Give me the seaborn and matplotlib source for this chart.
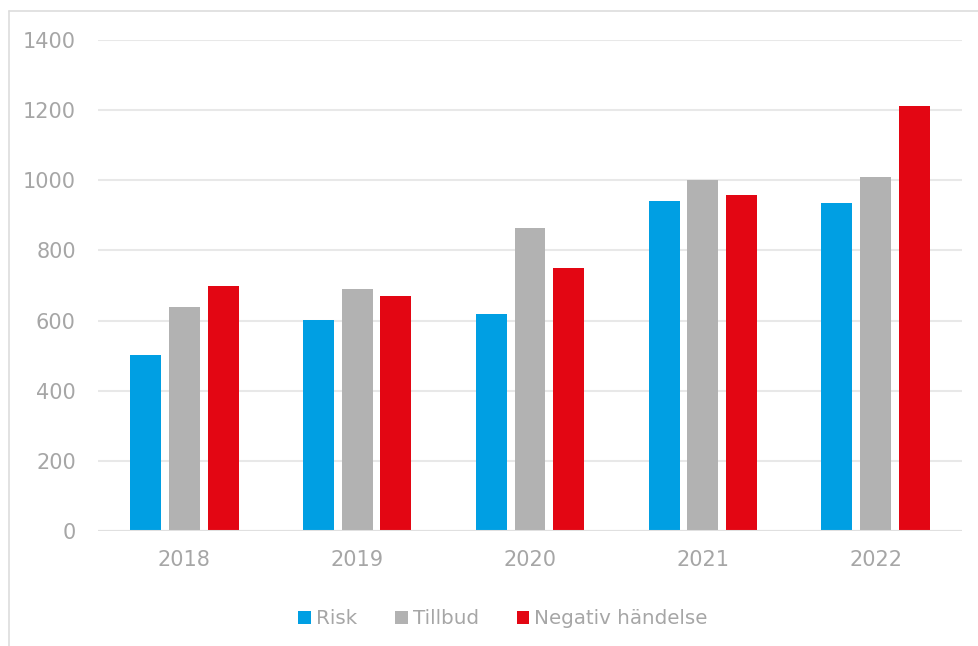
import matplotlib
matplotlib.use("Agg")
import matplotlib.pyplot as plt
import seaborn as sns
import pandas as pd
from matplotlib.patches import Patch
from matplotlib.lines import Line2D

years = ["2018", "2019", "2020", "2021", "2022"]
series = ["Risk", "Tillbud", "Negativ händelse"]
risk = [502, 602, 619, 941, 935]
tillbud = [639, 690, 864, 1000, 1008]
negativ = [699, 670, 750, 958, 1211]
yticks = [0, 200, 400, 600, 800, 1000, 1200, 1400]
colors = ["#009FE3", "#B2B2B2", "#E30613"]

df = pd.DataFrame({
    "year": years * 3,
    "series": [series[0]] * 5 + [series[1]] * 5 + [series[2]] * 5,
    "value": risk + tillbud + negativ,
})

sns.set_theme(style="white")
plt.rcParams["font.family"] = ["DejaVu Sans"]
txt = "#A6A6A6"

fig = plt.figure(figsize=(9.79, 6.46), dpi=100)
ax = fig.add_axes([98 / 979, 1 - 531 / 646, 864 / 979, 491 / 646])

sns.barplot(data=df, x="year", y="value", hue="series", order=years,
            hue_order=series, palette=colors, width=0.672, gap=0.2,
            saturation=1, ax=ax, legend=False, zorder=3, linewidth=0,
            edgecolor="none")

ax.set_xlim(-0.5, 4.5)
ax.set_ylim(0, 1400)
ax.set_yticks(yticks)
ax.set_yticklabels([str(v) for v in yticks])
ax.yaxis.grid(True, color="#E8E8E8", linewidth=1.5, zorder=0)
ax.set_axisbelow(True)
for s in ["top", "right", "left", "bottom"]:
    ax.spines[s].set_visible(False)
ax.axhline(0, color="#E0E0E0", linewidth=1.5, zorder=4)
ax.tick_params(axis="both", length=0, labelsize=15, labelcolor=txt)
ax.tick_params(axis="x", pad=14)
ax.tick_params(axis="y", pad=16)
ax.set_xlabel("")
ax.set_ylabel("")

# outer frame (top and left edges)
fig.add_artist(Line2D([9 / 979, 1.0], [1 - 11 / 646, 1 - 11 / 646],
                      transform=fig.transFigure, color="#DDDDDD", linewidth=1.2))
fig.add_artist(Line2D([9 / 979, 9 / 979], [0, 1 - 11 / 646],
                      transform=fig.transFigure, color="#DDDDDD", linewidth=1.2))

handles = [Patch(facecolor=c, edgecolor="none") for c in colors]
leg = fig.legend(handles, series, loc="center", bbox_to_anchor=(503 / 979, 1 - 619 / 646),
                 ncol=3, frameon=False, fontsize=14.3, handlelength=0.65,
                 handleheight=0.65, handletextpad=0.25, columnspacing=1.9)
for t in leg.get_texts():
    t.set_color(txt)

fig.savefig("out.png", dpi=100)
